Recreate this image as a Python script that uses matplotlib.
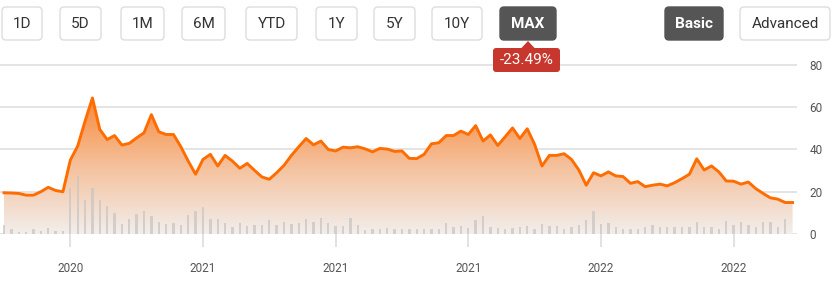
import numpy as np
import matplotlib
matplotlib.use("Agg")
import matplotlib.pyplot as plt
from matplotlib.colors import LinearSegmentedColormap
from matplotlib.patches import FancyBboxPatch, Polygon

plt.rcParams['font.family'] = ['Roboto', 'DejaVu Sans']

# weekly closing price
price = [19.5, 19.4, 19.2, 18.4, 18.4, 20.0, 22.1, 20.6, 20.0, 35.0,
         41.6, 53.4, 64.4, 49.5, 44.7, 46.6, 42.1, 42.9, 45.5, 47.9,
         56.5, 48.4, 47.1, 47.1, 41.3, 34.5, 28.3, 35.3, 37.7, 32.2,
         37.2, 34.5, 31.1, 33.4, 30.1, 27.0, 25.9, 29.0, 32.5, 37.2,
         41.3, 45.2, 42.2, 44.0, 40.0, 39.3, 41.1, 40.8, 41.3, 40.3,
         38.9, 40.5, 40.2, 39.1, 39.3, 35.8, 35.7, 37.7, 42.7, 43.2,
         46.6, 46.6, 48.7, 47.1, 51.3, 44.0, 46.9, 41.9, 46.0, 50.2,
         45.2, 49.8, 42.4, 32.2, 37.2, 37.2, 38.0, 35.3, 30.3, 23.1,
         29.0, 27.5, 29.4, 27.5, 27.2, 24.0, 24.8, 22.4, 23.1, 23.6,
         22.8, 24.3, 26.2, 28.3, 35.6, 30.3, 32.2, 29.4, 25.1, 25.0,
         23.6, 24.6, 21.5, 19.2, 17.1, 16.5, 14.9, 14.9]

# weekly volume (millions)
volume = [0.90, 0.47, 0.23, 0.23, 0.47, 0.33, 0.63, 0.33, 0.33, 4.57,
          5.80, 3.40, 4.57, 3.40, 2.80, 2.13, 1.00, 1.47, 2.00, 2.27,
          1.80, 1.23, 1.00, 1.13, 0.90, 1.90, 2.27, 2.67, 1.50, 1.50,
          1.13, 0.67, 1.13, 0.80, 0.90, 0.90, 1.40, 0.90, 1.23, 1.00,
          1.13, 1.50, 1.23, 1.63, 1.13, 0.80, 0.80, 1.63, 0.90, 0.40,
          0.47, 0.47, 0.63, 0.47, 0.47, 0.47, 0.47, 0.47, 0.47, 0.47,
          1.13, 0.73, 0.80, 0.57, 1.40, 1.80, 0.73, 0.57, 0.47, 0.57,
          0.73, 0.80, 0.47, 1.00, 0.80, 0.80, 0.47, 0.67, 0.90, 1.40,
          2.27, 1.00, 1.13, 0.73, 0.47, 0.47, 0.47, 0.73, 0.90, 0.73,
          0.73, 0.73, 0.73, 0.73, 1.23, 0.73, 0.73, 0.47, 1.33, 0.90,
          1.23, 0.90, 0.73, 1.17, 1.17, 0.73, 1.47, 0.00]

tick_pos = [9, 27, 45, 63, 81, 99]
tick_labels = ['2020', '2021', '2021', '2021', '2022', '2022']
y_ticks = [0, 20, 40, 60, 80]

ranges = ['1D', '5D', '1M', '6M', 'YTD', '1Y', '5Y', '10Y', 'MAX']
modes = ['Basic', 'Advanced']
change_text = '-23.49%'

x = np.arange(len(price))
XLIM = (-0.54, 107.6)
YLIM = (0, 80.47)

fig = plt.figure(figsize=(8.33, 2.88), dpi=100)
rect = [0, 54 / 288, 797 / 833, 170 / 288]
ax = fig.add_axes(rect)
ax.set_facecolor('white')

# volume bars and price line sit on twin axes over the gradient
ax2 = ax.twinx()
ax3 = ax.twinx()

# gradient area under the line
cmap = LinearSegmentedColormap.from_list('fade', ['#F2EEEC', '#F5C09B', '#F88838'])
poly = ax.fill_between(x, price, 0, facecolor='none', edgecolor='none')
grad = np.linspace(0, 1, 256).reshape(-1, 1)
im = ax.imshow(grad, extent=[x[0], x[-1], 0, 65], origin='lower', aspect='auto',
               cmap=cmap, zorder=1)
im.set_clip_path(poly.get_paths()[0], transform=ax.transData)

ax.set_xlim(*XLIM)
ax.set_ylim(*YLIM)
ax.set_yticks(y_ticks)
ax.yaxis.tick_right()
ax.tick_params(axis='y', which='both', left=False, right=False, labelleft=False,
               labelright=True, length=0, pad=9, labelsize=8.5, labelcolor='#555555')
ax.set_xticks(tick_pos)
ax.set_xticklabels(tick_labels)
ax.tick_params(axis='x', length=9.5, width=1.2, color='#dddddd', pad=11,
               labelsize=8.5, labelcolor='#555555')
ax.yaxis.grid(True, color='#e2e2e2', linewidth=1.3, zorder=0)
ax.set_axisbelow(True)
for s in ax.spines.values():
    s.set_visible(False)

ax2.bar(x, volume, width=0.32, color='#c9c6c4', alpha=0.75)
ax2.set_xlim(*XLIM)
ax2.set_ylim(0, 17.0)
ax2.axis('off')

ax3.plot(x, price, color='#FF6D00', linewidth=2.1, solid_joinstyle='round')
ax3.set_xlim(*XLIM)
ax3.set_ylim(*YLIM)
ax3.axis('off')

# buttons and label in pixel space
ov = fig.add_axes([0, 0, 1, 1])
ov.set_xlim(0, 833)
ov.set_ylim(288, 0)
ov.axis('off')


def button(lab, l, w, dark):
    ov.add_patch(FancyBboxPatch((l, 7), w, 33, boxstyle='round,pad=0,rounding_size=4',
                                facecolor='#555555' if dark else 'white',
                                edgecolor='#555555' if dark else '#dddddd', linewidth=1))
    ov.text(l + w / 2, 24, lab, ha='center', va='center', fontsize=11,
            color='white' if dark else '#333333', fontweight='bold' if dark else 'normal')


lefts = [2, 60, 121, 182, 246, 316, 374, 432, 500]
widths = [40, 41, 43, 43, 51, 41, 41, 50, 56]
for lab, l, w in zip(ranges, lefts, widths):
    button(lab, l, w, lab == 'MAX')
for lab, l, w in zip(modes, [665, 740], [58, 90]):
    button(lab, l, w, lab == 'Basic')

ov.add_patch(Polygon([[521, 48.5], [528, 41], [535, 48.5]], closed=True,
                     facecolor='#C8372D', edgecolor='none'))
ov.add_patch(FancyBboxPatch((493, 48), 67, 24, boxstyle='round,pad=0,rounding_size=3',
                            facecolor='#C8372D', edgecolor='none'))
ov.text(526.5, 60.5, change_text, ha='center', va='center', fontsize=11, color='white')

fig.savefig('out.png', dpi=100)
